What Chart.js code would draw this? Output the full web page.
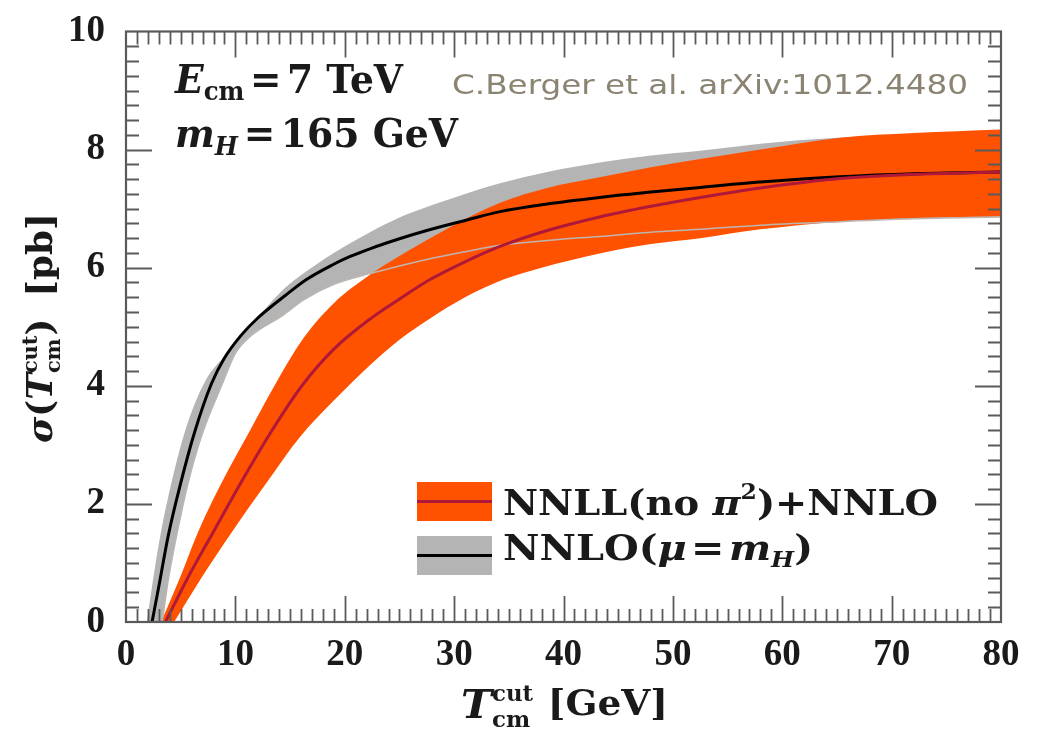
<!DOCTYPE html>
<html>
<head>
<meta charset="utf-8">
<script src="https://cdn.jsdelivr.net/npm/chart.js@4.4.1/dist/chart.umd.min.js"></script>
<style>
  html, body { margin: 0; padding: 0; background: #fff; }
  #wrap { position: relative; width: 1040px; height: 731px; }
</style>
</head>
<body>
<div id="wrap"><canvas id="xsec"></canvas></div>
<script>
// axis tick labels
const X_TICKS = [0, 10, 20, 30, 40, 50, 60, 70, 80];
const Y_TICKS = [0, 2, 4, 6, 8, 10];

// NNLO(mu = mH): central curve (black) and scale band (gray)
const T_NNLO = [2.38, 3.0, 3.85, 5.0, 6.25, 7.8, 9, 10.5, 12, 14.5, 16.5, 18.9, 20.5, 22.3, 25, 27.5, 31, 34.2, 38.5, 43.3, 48, 52.5, 58, 65.3, 72, 80];
const NNLO   = [0, 0.6, 1.45, 2.35, 3.2, 4.03, 4.47, 4.85, 5.14, 5.52, 5.8, 6.05, 6.19, 6.32, 6.49, 6.63, 6.8, 6.95, 7.08, 7.19, 7.28, 7.36, 7.45, 7.54, 7.59, 7.62];

const T_NNLO_UP = [1.9, 2.5, 3.2, 4.4, 5.6, 7.3, 9, 10, 11.6, 13, 14.5, 16.2, 19, 22.3, 25, 28, 31, 34.2, 38.5, 43.3, 48, 52.5, 58, 65, 72, 80];
const NNLO_UP   = [0, 0.75, 1.53, 2.55, 3.35, 4.1, 4.5, 4.72, 5.06, 5.36, 5.65, 5.9, 6.25, 6.6, 6.85, 7.06, 7.25, 7.43, 7.62, 7.78, 7.9, 7.98, 8.1, 8.2, 8.26, 8.3];

// first point lies below the axis (edge continues under the frame)
const T_NNLO_LO = [1.9, 3.3, 3.9, 4.7, 5.7, 7.0, 8.8, 10, 11.2, 14.4, 16.2, 19, 22.3, 25, 27.5, 31, 34.2, 38.5, 43.3, 48, 52.5, 58, 65.3, 72, 80];
const NNLO_LO   = [-1.6, 0, 0.75, 1.53, 2.37, 3.2, 4.03, 4.55, 4.81, 5.2, 5.45, 5.72, 5.9, 6.03, 6.14, 6.27, 6.38, 6.46, 6.53, 6.6, 6.65, 6.72, 6.78, 6.83, 6.86];

// NNLL(no pi^2)+NNLO: central curve (red) and band (orange)
const T_NNLL = [3.6, 5.8, 8.0, 10.7, 13.2, 16, 19, 22.3, 25, 27.8, 31, 34.2, 38.5, 43.3, 48, 52.5, 58, 65.3, 72, 80];
const NNLL   = [0, 0.8, 1.53, 2.42, 3.2, 3.98, 4.62, 5.13, 5.47, 5.8, 6.1, 6.36, 6.63, 6.86, 7.04, 7.19, 7.35, 7.51, 7.58, 7.62];

const T_NNLL_UP = [3.2, 5.0, 6.6, 9.0, 11.5, 13.2, 16.2, 19, 22.3, 25, 27.8, 31, 34.2, 38.5, 43.3, 48, 52.5, 58, 65.3, 72, 80];
const NNLL_UP   = [0, 0.78, 1.53, 2.45, 3.3, 3.88, 4.8, 5.4, 5.88, 6.2, 6.5, 6.82, 7.1, 7.35, 7.53, 7.7, 7.84, 8.0, 8.2, 8.28, 8.34];

const T_NNLL_LO = [3.2, 4.4, 6.9, 9.7, 12.9, 15.85, 19, 22.3, 25, 27.8, 31, 34.5, 38, 43.3, 48, 52.5, 58, 65.3, 72, 80];
const NNLL_LO   = [-0.35, 0, 0.75, 1.53, 2.37, 3.12, 3.75, 4.35, 4.78, 5.14, 5.5, 5.8, 6.0, 6.24, 6.4, 6.5, 6.65, 6.78, 6.84, 6.87];

const COLORS = {
  nnll: "#ff5200",
  nnllLine: "#b0183a",
  nnlo: "#b4b4b4",
  nnloLine: "#000000",
  edge: "#bdb6b0",
  text: "#1a1a1a",
  axis: "#5a5a5a",
  cite: "#8b8473",
  none: "rgba(0,0,0,0)",
};

const SERIF = "'DejaVu Serif', serif";

function pts(xs, ys) {
  return xs.map((x, i) => ({ x, y: ys[i] }));
}

// draw a row of text pieces (sub/superscripts), squeezed to a given width
function drawRuns(ctx, runs, x, y, width) {
  const adv = [];
  let pending = 0;
  runs.forEach((r) => {
    let w = r.gap || 0;
    if (r.text) {
      ctx.font = r.font;
      w = ctx.measureText(r.text).width;
    }
    if (r.stack) {
      pending = Math.max(pending, w);
      adv.push(0);
    } else {
      adv.push(Math.max(w, pending));
      pending = 0;
    }
  });
  const total = adv.reduce((a, b) => a + b, 0);
  ctx.save();
  ctx.translate(x, y);
  ctx.scale(width / total, 1);
  ctx.textAlign = "left";
  ctx.textBaseline = "alphabetic";
  let cx = 0;
  runs.forEach((r, i) => {
    if (r.text) {
      ctx.font = r.font;
      ctx.fillStyle = r.color || COLORS.text;
      ctx.fillText(r.text, cx, r.dy || 0);
    }
    cx += adv[i];
  });
  ctx.restore();
}

const B = (px) => `bold ${px}px ${SERIF}`;
const BI = (px) => `italic bold ${px}px ${SERIF}`;

const frameTicks = {
  id: "frameTicks",
  afterDatasetsDraw(chart) {
    const { ctx, chartArea: a, scales } = chart;
    const xs = scales.x, ys = scales.y;
    ctx.save();
    ctx.strokeStyle = COLORS.axis;
    ctx.lineWidth = 1.8;
    ctx.beginPath();
    // minor + major ticks on all four sides, pointing inward
    for (let v = xs.min + 1; v < xs.max; v += 1) {
      const len = X_TICKS.includes(v) ? 26 : 13;
      const px = Math.round(xs.getPixelForValue(v)) + 0.5;
      ctx.moveTo(px, a.bottom); ctx.lineTo(px, a.bottom - len);
      ctx.moveTo(px, a.top); ctx.lineTo(px, a.top + len);
    }
    for (let v = ys.min + 0.25; v < ys.max - 0.01; v += 0.25) {
      const len = Y_TICKS.some((t) => Math.abs(t - v) < 1e-6) ? 26 : 13;
      const py = Math.round(ys.getPixelForValue(v)) + 0.5;
      ctx.moveTo(a.left, py); ctx.lineTo(a.left + len, py);
      ctx.moveTo(a.right, py); ctx.lineTo(a.right - len, py);
    }
    ctx.stroke();
    ctx.lineWidth = 2.2;
    ctx.strokeRect(a.left, a.top, a.right - a.left, a.bottom - a.top);
    ctx.restore();
  },
};

const texts = {
  id: "texts",
  afterDraw(chart) {
    const { ctx } = chart;

    // legend
    ctx.save();
    ctx.fillStyle = COLORS.nnll;
    ctx.fillRect(417, 482, 75, 39);
    ctx.fillStyle = COLORS.nnllLine;
    ctx.fillRect(417, 500, 75, 3);
    ctx.fillStyle = COLORS.nnlo;
    ctx.fillRect(417, 536, 75, 39);
    ctx.fillStyle = COLORS.nnloLine;
    ctx.fillRect(417, 554, 75, 3);
    ctx.restore();

    drawRuns(ctx, [
      { text: "NNLL(no ", font: B(36) },
      { text: "π", font: BI(36) },
      { text: "2", font: B(22), dy: -16 },
      { text: ")+NNLO", font: B(36) },
    ], 503, 515, 435);

    drawRuns(ctx, [
      { text: "NNLO(", font: B(36) },
      { text: "μ", font: BI(36) },
      { gap: 4 },
      { text: "=", font: B(36) },
      { gap: 4 },
      { text: "m", font: BI(36) },
      { text: "H", font: BI(22), dy: 7 },
      { text: ")", font: B(36) },
    ], 503, 560, 310);

    // top-left annotations
    drawRuns(ctx, [
      { text: "E", font: BI(40) },
      { text: "cm", font: B(26), dy: 7 },
      { gap: 6 },
      { text: "=", font: B(40) },
      { gap: 6 },
      { text: "7 TeV", font: B(40) },
    ], 175, 93, 228);

    drawRuns(ctx, [
      { text: "m", font: BI(40) },
      { text: "H", font: BI(26), dy: 8 },
      { gap: 6 },
      { text: "=", font: B(40) },
      { gap: 6 },
      { text: "165 GeV", font: B(40) },
    ], 175, 147, 283);

    drawRuns(ctx, [
      { text: "C.Berger et al. arXiv:1012.4480", font: "27px 'DejaVu Sans', sans-serif", color: COLORS.cite },
    ], 452, 94, 516);

    // x-axis title
    drawRuns(ctx, [
      { text: "T", font: BI(40), dy: 3 },
      { text: "cut", font: B(22), dy: -14, stack: true },
      { text: "cm", font: B(22), dy: 12 },
      { gap: 14 },
      { text: "[GeV]", font: B(36) },
    ], 461, 715, 207);

    // y-axis title (rotated)
    ctx.save();
    ctx.translate(52, 443);
    ctx.rotate(-Math.PI / 2);
    drawRuns(ctx, [
      { text: "σ", font: BI(36) },
      { text: "(", font: B(36) },
      { text: "T", font: BI(36) },
      { text: "cut", font: B(21), dy: -15, stack: true },
      { text: "cm", font: B(21), dy: 8 },
      { text: ")", font: B(36) },
      { gap: 22 },
      { text: "[pb]", font: B(36) },
    ], 0, 0, 230);
    ctx.restore();
  },
};

const curve = (label, data, color, width, fill, bg) => ({
  label,
  data,
  borderColor: color,
  borderWidth: width,
  backgroundColor: bg || color,
  fill: fill === undefined ? false : fill,
  pointRadius: 0,
  cubicInterpolationMode: "monotone",
});

// datasets are painted last-to-first: gray band, orange band, band edge, black, red
new Chart(document.getElementById("xsec"), {
  type: "line",
  data: {
    datasets: [
      curve("NNLL(no π²)+NNLO", pts(T_NNLL, NNLL), COLORS.nnllLine, 3),
      curve("NNLO(μ=mH)", pts(T_NNLO, NNLO), COLORS.nnloLine, 3),
      curve("NNLO lower", pts(T_NNLO_LO, NNLO_LO), COLORS.edge, 1.5),
      curve("NNLL upper", pts(T_NNLL_UP, NNLL_UP), COLORS.none, 0, 4, COLORS.nnll),
      curve("NNLL lower", pts(T_NNLL_LO, NNLL_LO), COLORS.none, 0),
      curve("NNLO upper", pts(T_NNLO_UP, NNLO_UP), COLORS.none, 0, 2, COLORS.nnlo),
    ],
  },
  options: {
    responsive: true,
    maintainAspectRatio: false,
    animation: false,
    layout: { padding: { left: 0, right: 39, top: 22, bottom: 0 } },
    plugins: { legend: { display: false }, tooltip: { enabled: false } },
    scales: {
      x: {
        type: "linear",
        min: 0,
        max: 80,
        grid: { display: false },
        border: { display: false },
        afterBuildTicks: (s) => { s.ticks = X_TICKS.map((v) => ({ value: v })); },
        afterFit: (s) => { s.height = 109; },
        ticks: {
          padding: 7,
          maxRotation: 0,
          autoSkip: false,
          color: COLORS.text,
          font: { family: "'Liberation Serif', serif", size: 37, weight: "bold", lineHeight: 1 },
        },
      },
      y: {
        type: "linear",
        min: 0,
        max: 10,
        grid: { display: false },
        border: { display: false },
        afterBuildTicks: (s) => { s.ticks = Y_TICKS.map((v) => ({ value: v })); },
        afterFit: (s) => { s.width = 126; },
        ticks: {
          padding: 13,
          color: COLORS.text,
          font: { family: "'Liberation Serif', serif", size: 37, weight: "bold", lineHeight: 1 },
        },
      },
    },
  },
  plugins: [frameTicks, texts],
});
</script>
</body>
</html>
